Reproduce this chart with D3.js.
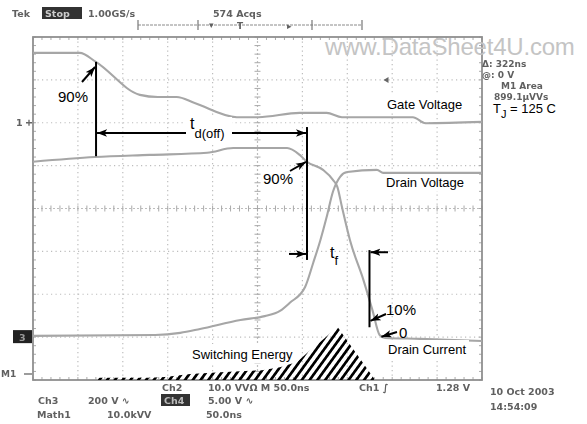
<!DOCTYPE html>
<html><head><meta charset="utf-8">
<script src="https://cdn.jsdelivr.net/npm/d3@7"></script>
<style>
html,body{margin:0;padding:0;background:#fff;}
svg{display:block;}
</style></head>
<body>
<svg id="chart" width="587" height="424"></svg>
<script>
// ---- data (time in ns, amplitude in screen divisions) ----
const gateT  = [0, 52, 70, 119, 139, 160, 180, 227, 251, 297, 327, 344, 423, 437, 500];
const gateV  = [3.63, 3.63, 3.42, 2.65, 2.60, 2.60, 2.46, 2.13, 2.13, 2.23, 2.23, 2.13, 2.13, 1.99, 2.02];
const drainVT = [0, 136, 164, 186, 231, 258, 275, 286, 303, 312, 320, 327, 334, 342, 350, 383, 390, 500];
const drainV  = [-2.97, -2.95, -2.90, -2.81, -2.60, -2.51, -2.39, -2.20, -1.83, -1.27, -0.74, -0.20, 0.39, 0.74, 0.85, 0.90, 0.83, 0.83];
const drainIT = [0, 69, 130, 194, 223, 283, 297, 305, 323, 334, 339, 344, 353, 368, 378, 386, 392, 431, 500];
const drainI  = [1.09, 1.20, 1.25, 1.30, 1.41, 1.41, 1.25, 1.09, 0.90, 0.67, 0.50, 0.04, -0.74, -1.67, -2.37, -2.95, -3.02, -3.04, -3.09];
const energyT = [69, 70, 130, 147, 175, 219, 255, 275, 294, 309, 325, 339, 381];
const energyV = [-4.0, -3.95, -3.95, -3.93, -3.86, -3.81, -3.77, -3.70, -3.58, -3.30, -3.02, -2.76, -4.0];
const cursorT = [70.2, 389.2];
const xDivs = 10, yDivs = 8, nsPerDiv = 50;
const topReadout = ["Tek", "Stop", "1.00GS/s", "574 Acqs"];
const rightReadout = ["Δ: 322ns", "@: 0 V", "M1 Area", "899.1µVVs"];
const bottomRow1 = ["Ch2", "10.0 VVΩ M 50.0ns", "Ch1 ∫", "1.28 V"];
const bottomRow2 = ["Ch3", "200 V ∿", "Ch4", "5.00 V ∿"];
const bottomRow3 = ["Math1", "10.0kVV", "50.0ns"];
const dateTime = ["10 Oct 2003", "14:54:09"];

// ---- setup ----
const svg = d3.select("#chart");
const X0 = 33, X1 = 482, Y0 = 37, Y1 = 380;
const x = d3.scaleLinear().domain([0, xDivs * nsPerDiv]).range([X0, X1]);
const y = d3.scaleLinear().domain([-yDivs / 2, yDivs / 2]).range([Y1, Y0]);
const SANS = "'Liberation Sans', Arial, sans-serif";
const SCOPE = "'DejaVu Sans', sans-serif";

const defs = svg.append("defs");
defs.append("filter").attr("id", "blur").append("feGaussianBlur").attr("stdDeviation", 0.55);
defs.append("filter").attr("id", "blur2").append("feGaussianBlur").attr("stdDeviation", 0.35);
const pat = defs.append("pattern").attr("id", "hatch").attr("patternUnits", "userSpaceOnUse")
  .attr("width", 6.3).attr("height", 10).attr("patternTransform", "rotate(36)");
pat.append("rect").attr("x", 0).attr("y", 0).attr("width", 2.7).attr("height", 10).attr("fill", "#000");
defs.append("marker").attr("id", "arr").attr("markerUnits", "userSpaceOnUse")
  .attr("markerWidth", 11).attr("markerHeight", 8).attr("refX", 10).attr("refY", 4)
  .attr("orient", "auto")
  .append("path").attr("d", "M0,0.3 L10,4 L0,7.7 L2.5,4 Z").attr("fill", "#000");

svg.append("rect").attr("width", 587).attr("height", 424).attr("fill", "#fff");

// ---- grid ----
const grid = svg.append("g").attr("filter", "url(#blur2)");
const xVals = d3.range(1, xDivs).map(i => i * nsPerDiv);
const yVals = d3.range(-yDivs / 2 + 1, yDivs / 2);
grid.selectAll(".vg").data(xVals).enter().append("line")
  .attr("x1", d => x(d)).attr("x2", d => x(d)).attr("y1", Y0).attr("y2", Y1)
  .attr("stroke", "#bdbdbd").attr("stroke-width", 1.2)
  .attr("stroke-dasharray", d => d === 250 ? "2,2" : "1.2,3.3");
grid.selectAll(".hg").data(yVals).enter().append("line")
  .attr("y1", d => y(d)).attr("y2", d => y(d)).attr("x1", X0).attr("x2", X1)
  .attr("stroke", "#bdbdbd").attr("stroke-width", 1.2)
  .attr("stroke-dasharray", d => d === 0 ? "2,2" : "1.2,3.3");
const minorX = d3.range(0, xDivs * 5 + 1).map(i => i * nsPerDiv / 5);
const minorY = d3.range(0, yDivs * 5 + 1).map(i => -yDivs / 2 + i / 5);
grid.selectAll(".mtx").data(minorX).enter().append("line")
  .attr("x1", d => x(d)).attr("x2", d => x(d)).attr("y1", y(0) - 3).attr("y2", y(0) + 3)
  .attr("stroke", "#aaa").attr("stroke-width", 1);
grid.selectAll(".mty").data(minorY).enter().append("line")
  .attr("y1", d => y(d)).attr("y2", d => y(d)).attr("x1", x(250) - 3).attr("x2", x(250) + 3)
  .attr("stroke", "#aaa").attr("stroke-width", 1);
grid.selectAll(".btx").data(minorX).enter().append("line")
  .attr("x1", d => x(d)).attr("x2", d => x(d)).attr("y1", Y0).attr("y2", Y0 + 3)
  .attr("stroke", "#aaa").attr("stroke-width", 1);
grid.selectAll(".bbx").data(minorX).enter().append("line")
  .attr("x1", d => x(d)).attr("x2", d => x(d)).attr("y1", Y1 - 3).attr("y2", Y1)
  .attr("stroke", "#aaa").attr("stroke-width", 1);
grid.selectAll(".bly").data(minorY).enter().append("line")
  .attr("y1", d => y(d)).attr("y2", d => y(d)).attr("x1", X0).attr("x2", X0 + 3)
  .attr("stroke", "#aaa").attr("stroke-width", 1);
grid.selectAll(".bry").data(minorY).enter().append("line")
  .attr("y1", d => y(d)).attr("y2", d => y(d)).attr("x1", X1 - 3).attr("x2", X1)
  .attr("stroke", "#aaa").attr("stroke-width", 1);
grid.append("rect").attr("x", X0).attr("y", Y0).attr("width", X1 - X0).attr("height", Y1 - Y0)
  .attr("fill", "none").attr("stroke", "#8f8f8f").attr("stroke-width", 1.8);

// cursors
svg.append("line").attr("x1", x(cursorT[0])).attr("x2", x(cursorT[0])).attr("y1", Y0).attr("y2", Y1)
  .attr("stroke", "#999").attr("stroke-width", 1.4).attr("stroke-dasharray", "4,3").attr("filter", "url(#blur2)");
svg.append("line").attr("x1", x(cursorT[1])).attr("x2", x(cursorT[1])).attr("y1", Y0).attr("y2", Y1)
  .attr("stroke", "#999").attr("stroke-width", 1.6).attr("filter", "url(#blur2)");

// ---- traces ----
const line = d3.line().x(d => x(d[0])).y(d => y(d[1])).curve(d3.curveMonotoneX);
const traces = [d3.zip(gateT, gateV), d3.zip(drainVT, drainV), d3.zip(drainIT, drainI)];
svg.append("g").attr("filter", "url(#blur2)").selectAll("path").data(traces).enter().append("path")
  .attr("d", line).attr("fill", "none").attr("stroke", "#a6a6a6").attr("stroke-width", 2.1);

// ---- switching energy hatch ----
const area = d3.area().x(d => x(d[0])).y0(y(-4)).y1(d => y(d[1])).curve(d3.curveLinear);
svg.append("path").datum(d3.zip(energyT, energyV)).attr("d", area).attr("fill", "url(#hatch)");

// watermark
svg.append("text").attr("x", 325).attr("y", 55).text("www.DataSheet4U.com")
  .attr("font-family", SANS).attr("font-size", 24).attr("fill", "#c4c4c4").attr("letter-spacing", -0.2);

// ---- scope readouts (blurred bitmap-like text) ----
const rd = svg.append("g").attr("filter", "url(#blur)").attr("font-family", SCOPE);
function rtext(t, px, py, opts = {}) {
  return rd.append("text").attr("x", px).attr("y", py).text(t)
    .attr("font-size", opts.size || 9.5).attr("fill", opts.fill || "#606060")
    .attr("font-weight", opts.weight || "bold");
}
rtext(topReadout[0], 12, 17);
rd.append("rect").attr("x", 42).attr("y", 7).attr("width", 40).attr("height", 12).attr("fill", "#333");
rtext(topReadout[1], 45, 17, { fill: "#ccc" });
rtext(topReadout[2], 88, 17);
rtext(topReadout[3], 213, 17);
rd.append("line").attr("x1", 138).attr("x2", 362).attr("y1", 25).attr("y2", 25)
  .attr("stroke", "#8a8a8a").attr("stroke-width", 1).attr("stroke-dasharray", "3,1");
[138, 198, 312, 362].forEach(v => rd.append("line").attr("x1", v).attr("x2", v).attr("y1", 20).attr("y2", 30)
  .attr("stroke", "#777").attr("stroke-width", 1.2));
rtext("▾", 209, 28, { size: 9 });
rtext("T", 237, 29, { size: 9 });
rtext("▸", 287, 29, { size: 9 });

rtext(rightReadout[0], 482, 67, { size: 9 });
rtext(rightReadout[1], 482, 78, { size: 9 });
rtext(rightReadout[2], 501, 89, { size: 9 });
rtext(rightReadout[3], 494, 100, { size: 9 });

rtext(bottomRow1[0], 162, 391);
rtext(bottomRow1[1], 208, 391);
rtext(bottomRow1[2], 359, 391);
rtext(bottomRow1[3], 436, 391);
rtext(bottomRow2[0], 38, 404);
rtext(bottomRow2[1], 88, 404);
rd.append("rect").attr("x", 161).attr("y", 394).attr("width", 29).attr("height", 12).attr("fill", "#333");
rtext(bottomRow2[2], 164, 404, { fill: "#bbb" });
rtext(bottomRow2[3], 208, 404);
rtext(bottomRow3[0], 37, 418);
rtext(bottomRow3[1], 107, 418);
rtext(bottomRow3[2], 206, 418);
rtext(dateTime[0], 490, 395);
rtext(dateTime[1], 490, 410);

// channel markers
rtext("1", 16, 126);
rd.append("path").attr("d", `M26,${y(2)} l6,0 M29,${y(2) - 3} l0,6`).attr("stroke", "#666").attr("stroke-width", 1.3);
rd.append("rect").attr("x", 13).attr("y", y(-3.0) - 7).attr("width", 19).attr("height", 13).attr("fill", "#222");
rtext("3", 19, y(-3.0) + 4, { fill: "#999" });
rtext("M1", 1, 377, { size: 9 });
rd.append("path").attr("d", `M24,${y(-3.86)} l8,0`).attr("stroke", "#666").attr("stroke-width", 1.3);
rd.append("path").attr("d", `M${x(cursorT[1]) + 1},${y(3.0)} l5,-3 l0,6 z`).attr("fill", "#666");

// ---- annotations ----
const ann = svg.append("g").attr("font-family", SANS).attr("fill", "#000");
function label(t, px, py, w, h) {
  ann.append("rect").attr("x", px - 3).attr("y", py - h + 4).attr("width", w).attr("height", h).attr("fill", "#fff");
  ann.append("text").attr("x", px).attr("y", py).text(t).attr("font-size", 13);
}
label("Gate Voltage", 387, 109, 87, 19);
label("Drain Voltage", 386, 187, 86, 17);
label("Drain Current", 388, 354, 84, 18);
label("Switching Energy", 192, 359, 106, 19);

const tJ = ann.append("text").attr("x", 493).attr("y", 113).attr("font-size", 13);
tJ.append("tspan").text("T");
tJ.append("tspan").text("J").attr("font-size", 11).attr("dy", 5);
tJ.append("tspan").text(" = 125 C").attr("dy", -5);

function seg(x1, y1, x2, y2, arrow) {
  const l = ann.append("line").attr("x1", x1).attr("y1", y1).attr("x2", x2).attr("y2", y2)
    .attr("stroke", "#000").attr("stroke-width", 2);
  if (arrow) l.attr("marker-end", "url(#arr)");
  return l;
}
const xa = x(70.2), xb = x(305.1), xc = x(374.7);
seg(xa, y(3.42), xa, y(1.22));
seg(xb, y(1.90), xb, y(-1.20));
seg(186, y(1.76), xa + 1, y(1.76), true);
seg(232, y(1.76), xb - 1, y(1.76), true);
ann.append("rect").attr("x", 186).attr("y", 117).attr("width", 46).attr("height", 28).attr("fill", "#fff");
const td = ann.append("text").attr("x", 190).attr("y", 129).attr("font-size", 16);
td.append("tspan").text("t");
td.append("tspan").text("d(off)").attr("font-size", 13).attr("dy", 9);
seg(82, 82, xa - 1, y(3.30), true);
ann.append("text").attr("x", 58).attr("y", 102).text("90%").attr("font-size", 15);
seg(290, 171, xb - 1, y(1.085), true);
ann.append("text").attr("x", 263).attr("y", 184).text("90%").attr("font-size", 15);
seg(289, y(-1.06), xb - 1, y(-1.06), true);
seg(xc, y(-0.97), xc, y(-2.77));
seg(388, y(-1.02), xc + 1, y(-1.02), true);
const tf = ann.append("text").attr("x", 330).attr("y", 258).attr("font-size", 16);
tf.append("tspan").text("t");
tf.append("tspan").text("f").attr("font-size", 13).attr("dy", 7);
seg(386, 314, xc + 1, y(-2.62), true);
ann.append("text").attr("x", 386).attr("y", 315).text("10%").attr("font-size", 15);
seg(397, 332, x(388), y(-2.99), true);
ann.append("text").attr("x", 399).attr("y", 338).text("0").attr("font-size", 15);
</script>
</body></html>
